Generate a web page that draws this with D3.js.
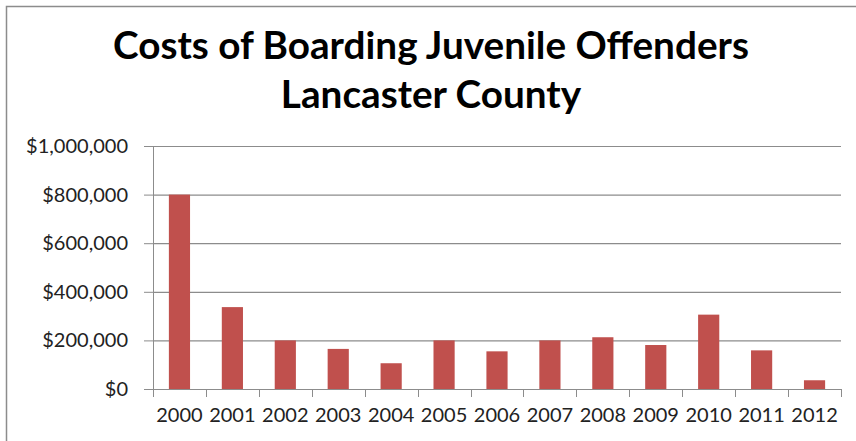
<!DOCTYPE html>
<html>
<head>
<meta charset="utf-8">
<script src="https://cdn.jsdelivr.net/npm/d3@7"></script>
<style>
  body { margin: 0; background: #fff; }
  svg { display: block; }
  text { font-family: Lato, "Open Sans", sans-serif; }
</style>
</head>
<body>
<div id="chart"></div>
<script>
var years = ["2000", "2001", "2002", "2003", "2004", "2005", "2006", "2007", "2008", "2009", "2010", "2011", "2012"]
var costs = [800000, 337000, 200000, 165000, 106000, 200000, 155000, 200000, 213000, 181000, 306000, 159000, 36000]
var yTicks = [0, 200000, 400000, 600000, 800000, 1000000]
var titleLines = ["Costs of Boarding Juvenile Offenders", "Lancaster County"]

var W = 856, H = 441
var margin = { top: 146, right: 15, bottom: 52, left: 153 }

var svg = d3.select("#chart")
    .append("svg")
    .attr("width", W)
    .attr("height", H)

// outer chart frame (cut off at right/bottom in the picture)
svg.append("rect")
    .attr("x", 6.5)
    .attr("y", 6.5)
    .attr("width", W + 20)
    .attr("height", H + 20)
    .attr("fill", "#fff")
    .attr("stroke", "#8c8c8c")
    .attr("stroke-width", 1.5)

// title
var title = svg.append("g")
title.selectAll("text")
    .data(titleLines)
    .enter().append("text")
    .attr("x", (W + 6) / 2)
    .attr("y", function (d, i) { return 59 + i * 49 })
    .attr("text-anchor", "middle")
    .attr("font-weight", "bold")
    .attr("font-size", 36)
    .attr("fill", "#000")
    .text(function (d) { return d })

// fit the title to the width it takes in the picture
var first = title.select("text").node()
var scaleF = 636 / first.getComputedTextLength()
title.selectAll("text").attr("font-size", 36 * scaleF)

var g = svg.append("g")
    .attr("transform", "translate(" + margin.left + "," + margin.top + ")")

var width = W - margin.left - margin.right
var height = H - margin.top - margin.bottom

const x = d3.scaleBand()
    .domain(years)
    .range([0, width])
    .paddingInner(0.6)
    .paddingOuter(0.3)

const y = d3.scaleLinear()
    .domain([0, 1000000])
    .range([height, 0])

var fmt = function (d) { return "$" + d3.format(",")(d) }

// gridlines + y axis
var yAxis = g.append("g")
    .call(d3.axisLeft(y).tickValues(yTicks).tickFormat(fmt).tickSize(9).tickPadding(16))
yAxis.select(".domain").attr("stroke", "#8c8c8c")
yAxis.selectAll(".tick line").attr("stroke", "#8c8c8c")
yAxis.selectAll(".tick text")
    .attr("font-size", 20)
    .attr("fill", "#222")

g.append("g")
    .selectAll("line")
    .data(yTicks.filter(function (d) { return d > 0 }))
    .enter().append("line")
    .attr("x1", 0)
    .attr("x2", width)
    .attr("y1", function (d) { return y(d) + 0.5 })
    .attr("y2", function (d) { return y(d) + 0.5 })
    .attr("stroke", "#8c8c8c")
    .attr("stroke-width", 1.2)

// bars
g.selectAll(".bar")
    .data(costs)
    .enter().append("rect")
    .attr("class", "bar")
    .attr("x", function (d, i) { return x(years[i]) })
    .attr("y", function (d) { return y(d) })
    .attr("width", x.bandwidth())
    .attr("height", function (d) { return height - y(d) })
    .attr("fill", "#c0504d")

// x axis: ticks sit between categories
var step = x.step()
var xAxis = g.append("g")
    .attr("transform", "translate(0," + height + ")")
xAxis.append("line")
    .attr("x1", 0)
    .attr("x2", width)
    .attr("y1", 0.5)
    .attr("y2", 0.5)
    .attr("stroke", "#8c8c8c")
    .attr("stroke-width", 1.2)
xAxis.selectAll(".xtick")
    .data(d3.range(years.length + 1))
    .enter().append("line")
    .attr("class", "xtick")
    .attr("x1", function (i) { return Math.round(i * step) + 0.5 })
    .attr("x2", function (i) { return Math.round(i * step) + 0.5 })
    .attr("y1", 0)
    .attr("y2", 8)
    .attr("stroke", "#8c8c8c")
xAxis.selectAll(".xlabel")
    .data(years)
    .enter().append("text")
    .attr("class", "xlabel")
    .attr("x", function (d) { return x(d) + x.bandwidth() / 2 })
    .attr("y", 33)
    .attr("text-anchor", "middle")
    .attr("font-size", 20)
    .attr("fill", "#222")
    .text(function (d) { return d })
</script>
</body>
</html>
